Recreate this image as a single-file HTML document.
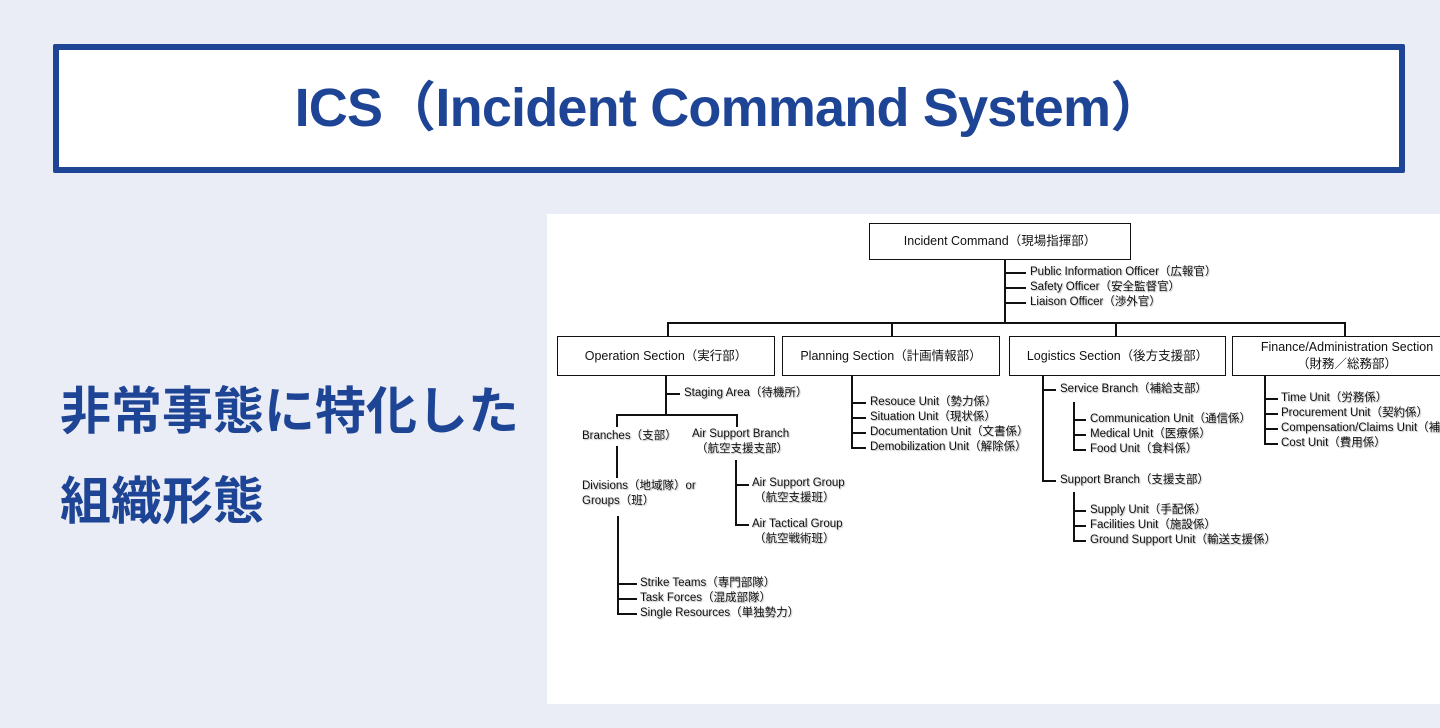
<!DOCTYPE html>
<html><head><meta charset="utf-8"><style>
body{margin:0;width:1440px;height:728px;background:#eaedf5;position:relative;overflow:hidden;font-family:"Liberation Sans","Noto Sans CJK JP",sans-serif}
.title{position:absolute;left:53px;top:44px;width:1340px;height:117px;border:6px solid #1e4495;background:#fff;border-radius:2px;color:#1e4495;font-weight:bold;font-size:54px;text-align:center;line-height:117px;letter-spacing:-0.8px}
.lt{position:absolute;left:60px;color:#1e4495;font-weight:bold;font-size:51px;font-family:"Noto Sans CJK JP",sans-serif;white-space:nowrap;line-height:60px}
.panel{position:absolute;left:547px;top:214px;width:893px;height:490px;background:#fff;overflow:hidden}
.b{position:absolute;border:1.5px solid #111;background:#fff;box-sizing:border-box;font-size:12.5px;text-align:center;color:#111}
.t{position:absolute;font-size:11.5px;color:#111;white-space:nowrap;line-height:13px;text-shadow:1px 1px 1px #bbb}
.h{position:absolute;height:1.5px;background:#111}
.v{position:absolute;width:1.5px;background:#111}
</style></head><body>
<div class="title">ICS（Incident Command System）</div>
<div class="lt" style="top:377px">非常事態に特化した</div>
<div class="lt" style="top:467px">組織形態</div>
<div class="panel"><div style="position:absolute;left:-547px;top:-214px;width:1440px;height:728px">
<div class="b" style="left:869px;top:223px;width:262px;height:37px;line-height:35px">Incident Command（現場指揮部）</div>
<div class="v" style="left:1004px;top:260px;height:63px"></div>
<div class="h" style="left:1004px;top:272px;width:22px"></div>
<div class="h" style="left:1004px;top:287px;width:22px"></div>
<div class="h" style="left:1004px;top:302px;width:22px"></div>
<div class="t" style="left:1030px;top:266px">Public Information Officer（広報官）</div>
<div class="t" style="left:1030px;top:281px">Safety Officer（安全監督官）</div>
<div class="t" style="left:1030px;top:296px">Liaison Officer（渉外官）</div>
<div class="h" style="left:667px;top:322px;width:679px"></div>
<div class="v" style="left:667px;top:322px;height:14px"></div>
<div class="v" style="left:891px;top:322px;height:14px"></div>
<div class="v" style="left:1115px;top:322px;height:14px"></div>
<div class="v" style="left:1344px;top:322px;height:14px"></div>
<div class="b" style="left:557px;top:336px;width:218px;height:40px;line-height:38px">Operation Section（実行部）</div>
<div class="b" style="left:782px;top:336px;width:218px;height:40px;line-height:38px">Planning Section（計画情報部）</div>
<div class="b" style="left:1009px;top:336px;width:217px;height:40px;line-height:38px">Logistics Section（後方支援部）</div>
<div class="b" style="left:1232px;top:336px;width:230px;height:40px;line-height:17px;padding-top:2px">Finance/Administration Section<br>（財務／総務部）</div>
<div class="v" style="left:665px;top:376px;height:38px"></div>
<div class="h" style="left:665px;top:393px;width:15px"></div>
<div class="t" style="left:684px;top:387px">Staging Area（待機所）</div>
<div class="h" style="left:616px;top:414px;width:121px"></div>
<div class="v" style="left:616px;top:414px;height:13px"></div>
<div class="v" style="left:736px;top:414px;height:13px"></div>
<div class="t" style="left:582px;top:430px">Branches（支部）</div>
<div class="t" style="left:692px;top:428px">Air Support Branch</div>
<div class="t" style="left:696px;top:443px">（航空支援支部）</div>
<div class="v" style="left:616px;top:446px;height:32px"></div>
<div class="t" style="left:582px;top:480px">Divisions（地域隊）or</div>
<div class="t" style="left:582px;top:495px">Groups（班）</div>
<div class="v" style="left:617px;top:516px;height:98px"></div>
<div class="h" style="left:617px;top:583px;width:20px"></div>
<div class="h" style="left:617px;top:598px;width:20px"></div>
<div class="h" style="left:617px;top:613px;width:20px"></div>
<div class="t" style="left:640px;top:577px">Strike Teams（専門部隊）</div>
<div class="t" style="left:640px;top:592px">Task Forces（混成部隊）</div>
<div class="t" style="left:640px;top:607px">Single Resources（単独勢力）</div>
<div class="v" style="left:735px;top:460px;height:65px"></div>
<div class="h" style="left:735px;top:484px;width:14px"></div>
<div class="h" style="left:735px;top:524px;width:14px"></div>
<div class="t" style="left:752px;top:477px">Air Support Group</div>
<div class="t" style="left:754px;top:492px">（航空支援班）</div>
<div class="t" style="left:752px;top:518px">Air Tactical Group</div>
<div class="t" style="left:754px;top:533px">（航空戦術班）</div>
<div class="v" style="left:851px;top:376px;height:73px"></div>
<div class="h" style="left:851px;top:402px;width:15px"></div>
<div class="h" style="left:851px;top:417px;width:15px"></div>
<div class="h" style="left:851px;top:432px;width:15px"></div>
<div class="h" style="left:851px;top:447px;width:15px"></div>
<div class="t" style="left:870px;top:396px">Resouce Unit（勢力係）</div>
<div class="t" style="left:870px;top:411px">Situation Unit（現状係）</div>
<div class="t" style="left:870px;top:426px">Documentation Unit（文書係）</div>
<div class="t" style="left:870px;top:441px">Demobilization Unit（解除係）</div>
<div class="v" style="left:1042px;top:376px;height:105px"></div>
<div class="h" style="left:1042px;top:389px;width:14px"></div>
<div class="h" style="left:1042px;top:480px;width:14px"></div>
<div class="t" style="left:1060px;top:383px">Service Branch（補給支部）</div>
<div class="t" style="left:1060px;top:474px">Support Branch（支援支部）</div>
<div class="v" style="left:1073px;top:402px;height:49px"></div>
<div class="h" style="left:1073px;top:419px;width:13px"></div>
<div class="h" style="left:1073px;top:434px;width:13px"></div>
<div class="h" style="left:1073px;top:449px;width:13px"></div>
<div class="t" style="left:1090px;top:413px">Communication Unit（通信係）</div>
<div class="t" style="left:1090px;top:428px">Medical Unit（医療係）</div>
<div class="t" style="left:1090px;top:443px">Food Unit（食料係）</div>
<div class="v" style="left:1073px;top:492px;height:49px"></div>
<div class="h" style="left:1073px;top:510px;width:13px"></div>
<div class="h" style="left:1073px;top:525px;width:13px"></div>
<div class="h" style="left:1073px;top:540px;width:13px"></div>
<div class="t" style="left:1090px;top:504px">Supply Unit（手配係）</div>
<div class="t" style="left:1090px;top:519px">Facilities Unit（施設係）</div>
<div class="t" style="left:1090px;top:534px">Ground Support Unit（輸送支援係）</div>
<div class="v" style="left:1264px;top:376px;height:69px"></div>
<div class="h" style="left:1264px;top:398px;width:14px"></div>
<div class="h" style="left:1264px;top:413px;width:14px"></div>
<div class="h" style="left:1264px;top:428px;width:14px"></div>
<div class="h" style="left:1264px;top:443px;width:14px"></div>
<div class="t" style="left:1281px;top:392px">Time Unit（労務係）</div>
<div class="t" style="left:1281px;top:407px">Procurement Unit（契約係）</div>
<div class="t" style="left:1281px;top:422px">Compensation/Claims Unit（補償係）</div>
<div class="t" style="left:1281px;top:437px">Cost Unit（費用係）</div>
</div></div>
</body></html>
